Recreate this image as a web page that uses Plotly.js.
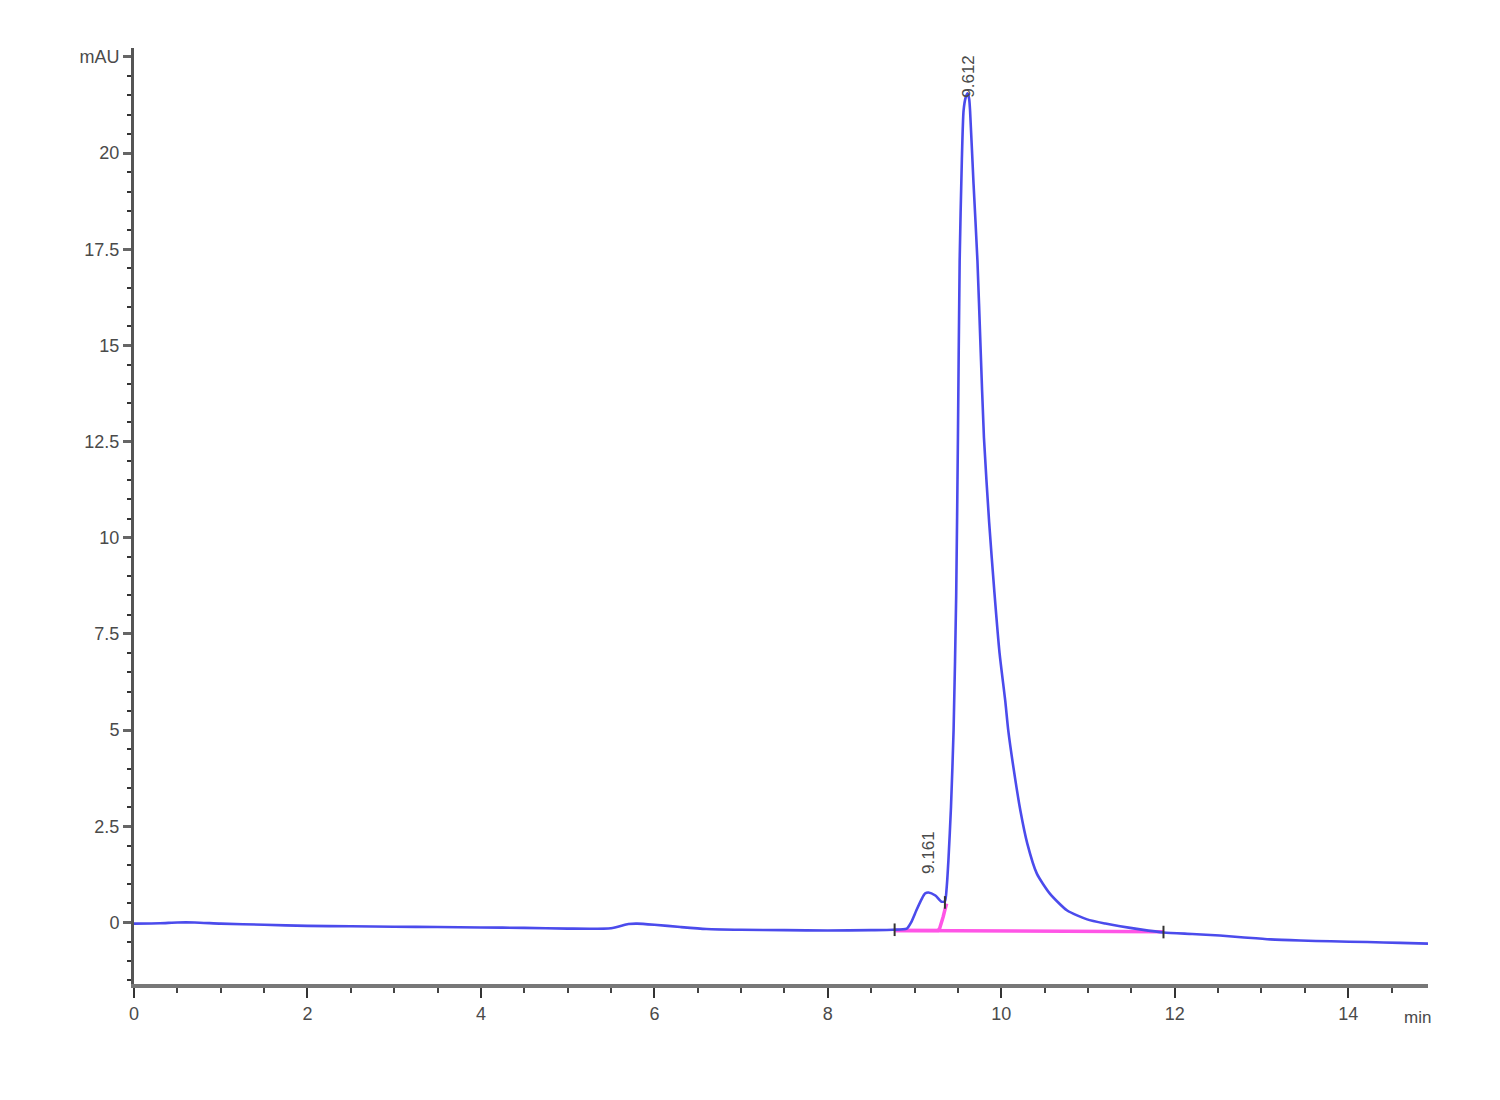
<!DOCTYPE html>
<html>
<head>
<meta charset="utf-8">
<script src="https://cdn.plot.ly/plotly-3.0.1.min.js"></script>
<style>html,body{margin:0;padding:0;background:#fff;}#chart{width:1500px;height:1100px;}</style>
</head>
<body>
<div id="chart"></div>
<script>
// Chromatogram signal (min, mAU)
const timeMin = [0, 0.3, 0.5, 0.7, 1.0, 1.5, 2.0, 2.5, 3.0, 3.5, 4.0, 4.5, 5.0, 5.5, 5.7, 5.8, 6.0, 6.3, 6.6, 7.0, 7.5, 8.0, 8.5, 8.75, 8.91, 8.96, 9.02, 9.08, 9.12, 9.16, 9.24, 9.31, 9.35, 9.37, 9.39, 9.42, 9.45, 9.48, 9.50, 9.52, 9.545, 9.565, 9.59, 9.612, 9.63, 9.64, 9.68, 9.725, 9.76, 9.80, 9.86, 9.92, 9.98, 10.045, 10.08, 10.14, 10.22, 10.30, 10.41, 10.56, 10.76, 10.99, 11.2, 11.37, 11.6, 11.87, 12.2, 12.52, 12.8, 13.1, 13.45, 13.8, 14.22, 14.6, 14.92];
const signalMAU = [-0.03, -0.02, 0.0, 0.0, -0.03, -0.06, -0.09, -0.10, -0.11, -0.12, -0.13, -0.14, -0.16, -0.15, -0.04, -0.03, -0.06, -0.12, -0.17, -0.19, -0.20, -0.21, -0.20, -0.19, -0.16, 0.0, 0.31, 0.60, 0.75, 0.78, 0.70, 0.54, 0.55, 0.9, 1.6, 3.0, 5.0, 8.5, 12.6, 17.2, 19.8, 21.1, 21.45, 21.55, 21.4, 21.1, 19.2, 17.2, 15.0, 12.6, 10.4, 8.6, 7.0, 5.77, 5.0, 4.03, 2.91, 2.05, 1.27, 0.75, 0.31, 0.08, -0.03, -0.10, -0.18, -0.26, -0.30, -0.34, -0.39, -0.44, -0.47, -0.49, -0.51, -0.53, -0.55];

// Integration baselines
const dropX = [8.78, 9.27, 9.29, 9.31, 9.33, 9.35, 9.37];
const dropY = [-0.21, -0.21, -0.15, -0.02, 0.15, 0.33, 0.49];
const baseX = [8.78, 11.87];
const baseY = [-0.21, -0.24];

// Integration event marks
const markX = [8.77, 9.35, 11.87];
const markY = [-0.19, 0.52, -0.25];

// Peak labels
const peakRT = [9.161, 9.612];
const peakLabels = ["9.161", "9.612"];
const peakLabelY = [1.82, 22.0];

// Axis ticks
const yTickVals = [0, 2.5, 5, 7.5, 10, 12.5, 15, 17.5, 20, 22.5];
const yTickText = ["0", "2.5", "5", "7.5", "10", "12.5", "15", "17.5", "20", "mAU"];
const xTickVals = [0, 2, 4, 6, 8, 10, 12, 14];

const fontFam = '"Liberation Sans Narrow", "Arial Narrow", "Liberation Sans", Arial, sans-serif';
const textCol = '#4a4a4a';

const traces = [
  {x: baseX, y: baseY, mode: 'lines', line: {color: '#ff55e6', width: 3.5}, hoverinfo: 'skip'},
  {x: dropX, y: dropY, mode: 'lines', line: {color: '#ff55e6', width: 3.5}, hoverinfo: 'skip'},
  {x: timeMin, y: signalMAU, mode: 'lines', line: {color: '#4b4bec', width: 2.6, shape: 'spline', smoothing: 0.6}},
  {x: markX, y: markY, mode: 'markers', marker: {symbol: 'line-ns', size: 9, line: {color: '#333', width: 2}}, hoverinfo: 'skip'}
];

const annotations = peakRT.map((rt, i) => ({
  x: rt, y: peakLabelY[i], xref: 'x', yref: 'y', text: peakLabels[i],
  textangle: -90, showarrow: false, font: {family: fontFam, size: 17, color: textCol},
  xanchor: 'center', yanchor: 'middle'
}));
annotations.push({
  x: 14.62, y: -0.036, xref: 'x', yref: 'paper', text: 'min', showarrow: false,
  xanchor: 'left', yanchor: 'middle', font: {family: fontFam, size: 17, color: textCol}
});

const layout = {
  width: 1500, height: 1100,
  margin: {l: 134, r: 72, t: 48, b: 116},
  paper_bgcolor: '#fff', plot_bgcolor: '#fff',
  showlegend: false,
  font: {family: fontFam, size: 18, color: textCol},
  xaxis: {
    range: [0, 14.92], showgrid: false, zeroline: false,
    showline: true, linecolor: '#777', linewidth: 4,
    tickmode: 'array', tickvals: xTickVals, ticks: 'outside', ticklen: 10, tickwidth: 2, tickcolor: '#333',
    minor: {tickmode: 'linear', tick0: 0, dtick: 0.5, ticks: 'outside', ticklen: 5, tickwidth: 2, tickcolor: '#444', showgrid: false},
    tickfont: {family: fontFam, size: 18, color: textCol}
  },
  yaxis: {
    range: [-1.6, 22.73], showgrid: false, zeroline: false,
    showline: true, linecolor: '#555', linewidth: 3,
    tickmode: 'array', tickvals: yTickVals, ticktext: yTickText, ticks: 'outside', ticklen: 8, tickwidth: 3, tickcolor: '#666',
    minor: {tickmode: 'linear', tick0: 0, dtick: 0.5, ticks: 'outside', ticklen: 4, tickwidth: 2, tickcolor: '#333', showgrid: false},
    tickfont: {family: fontFam, size: 18, color: textCol}
  },
  annotations: annotations
};

Plotly.newPlot('chart', traces, layout, {displayModeBar: false, staticPlot: true});
</script>
</body>
</html>
